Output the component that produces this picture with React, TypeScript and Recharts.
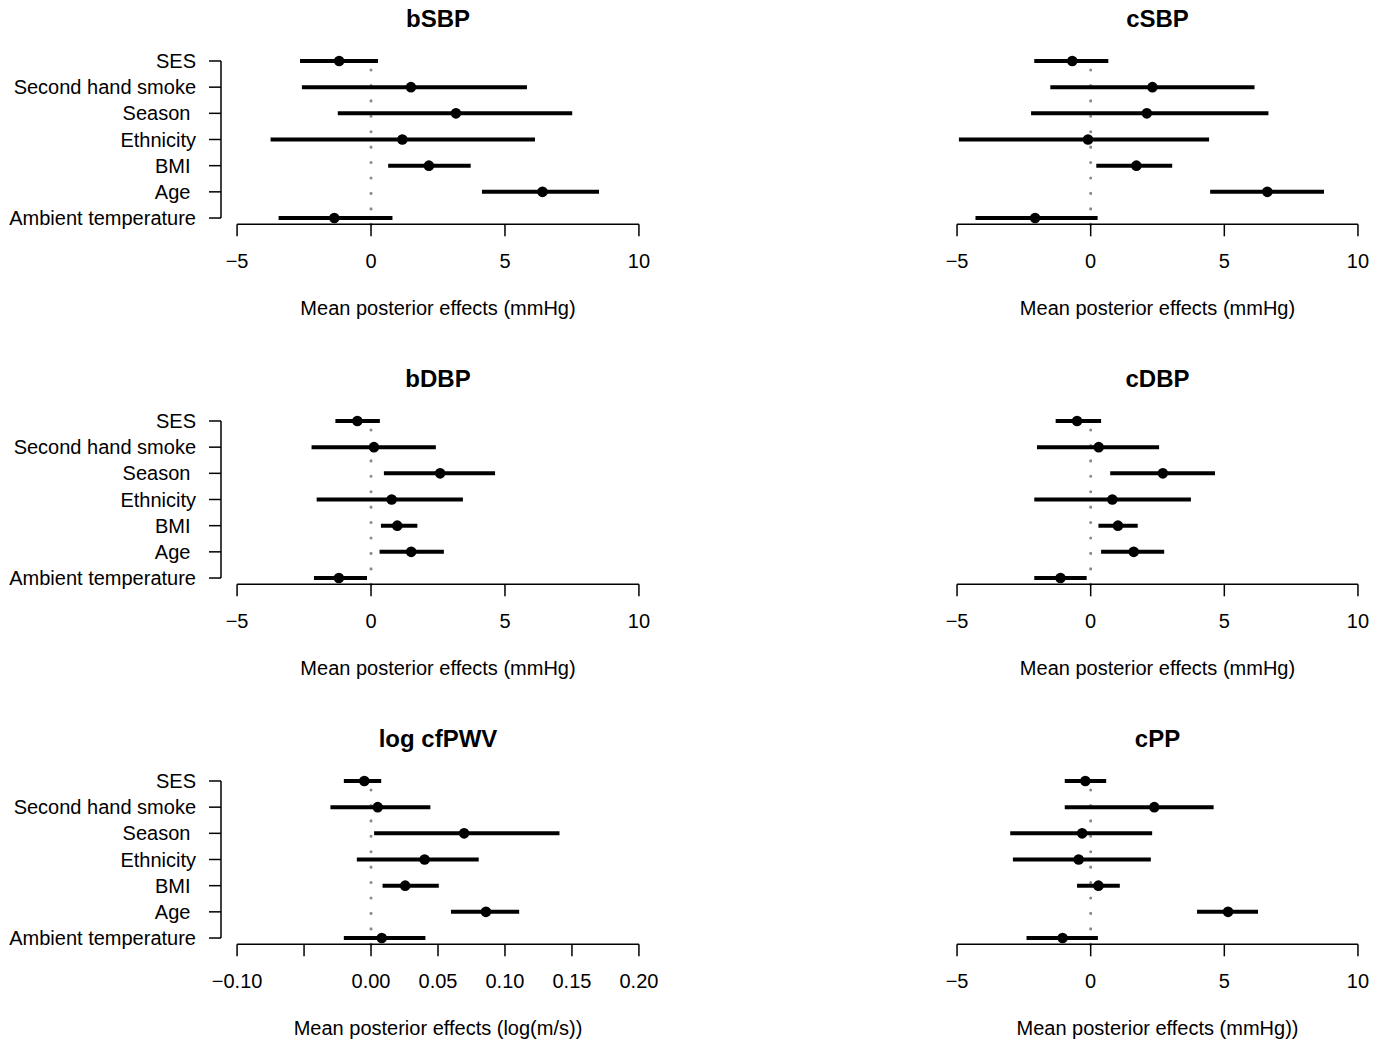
import React from 'react';
import { ComposedChart, Scatter, ErrorBar, XAxis, YAxis, ReferenceLine } from 'recharts';

const FONT = '"Liberation Sans", Arial, Helvetica, sans-serif';

// Covariates, listed top to bottom (non-breaking spaces keep the original label alignment)
const factorLabels = [
  'SES',
  'Second hand smoke',
  'Season\u00a0',
  'Ethnicity',
  'BMI\u00a0',
  'Age\u00a0',
  'Ambient temperature',
];
const factorPositions = [1, 2, 3, 4, 5, 6, 7];

const mmHgTicks = [-5, 0, 5, 10];
const pwvTicks = [-0.1, -0.05, 0, 0.05, 0.1, 0.15, 0.2];

// bSBP
const bSBPMean = [-1.19, 1.49, 3.17, 1.17, 2.16, 6.4, -1.37];
const bSBPLower = [-2.65, -2.58, -1.24, -3.75, 0.64, 4.14, -3.45];
const bSBPUpper = [0.26, 5.82, 7.51, 6.12, 3.72, 8.51, 0.8];

// cSBP
const cSBPMean = [-0.69, 2.31, 2.1, -0.1, 1.71, 6.61, -2.08];
const cSBPLower = [-2.11, -1.51, -2.23, -4.93, 0.21, 4.47, -4.31];
const cSBPUpper = [0.66, 6.13, 6.65, 4.43, 3.05, 8.73, 0.26];

// bDBP
const bDBPMean = [-0.51, 0.11, 2.58, 0.77, 0.98, 1.5, -1.2];
const bDBPLower = [-1.33, -2.22, 0.48, -2.03, 0.37, 0.32, -2.13];
const bDBPUpper = [0.33, 2.42, 4.63, 3.43, 1.73, 2.72, -0.15];

// cDBP
const cDBPMean = [-0.51, 0.3, 2.7, 0.81, 1.02, 1.61, -1.13];
const cDBPLower = [-1.31, -2.01, 0.73, -2.11, 0.29, 0.39, -2.11];
const cDBPUpper = [0.39, 2.56, 4.65, 3.75, 1.76, 2.75, -0.15];

// log cfPWV
const pwvMean = [-0.005, 0.005, 0.0695, 0.04, 0.0255, 0.0858, 0.008];
const pwvLower = [-0.0203, -0.0303, 0.0023, -0.0106, 0.0086, 0.0597, -0.0203];
const pwvUpper = [0.0076, 0.0443, 0.1407, 0.0804, 0.0506, 0.1106, 0.0406];

// cPP
const cPPMean = [-0.2, 2.38, -0.32, -0.45, 0.29, 5.14, -1.05];
const cPPLower = [-0.97, -0.97, -3.01, -2.91, -0.51, 3.98, -2.4];
const cPPUpper = [0.58, 4.6, 2.3, 2.25, 1.09, 6.26, 0.27];

const formatMmHg = (v: number) => (v < 0 ? '\u2212' + Math.abs(v) : String(v));
const formatPwv = (v: number) => {
  if (Math.abs(v + 0.05) < 1e-9) return '';
  return (v < -1e-9 ? '\u2212' : '') + Math.abs(v).toFixed(2);
};

type PanelSpec = {
  title: string;
  xLabel: string;
  mean: number[];
  lower: number[];
  upper: number[];
  ticks: number[];
  domain: [number, number];
  format: (v: number) => string;
  col: number;
  row: number;
};

const panels: PanelSpec[] = [
  { title: 'bSBP', xLabel: 'Mean posterior effects (mmHg)', mean: bSBPMean, lower: bSBPLower, upper: bSBPUpper, ticks: mmHgTicks, domain: [-5.6, 10.6], format: formatMmHg, col: 0, row: 0 },
  { title: 'cSBP', xLabel: 'Mean posterior effects (mmHg)', mean: cSBPMean, lower: cSBPLower, upper: cSBPUpper, ticks: mmHgTicks, domain: [-5.6, 10.6], format: formatMmHg, col: 1, row: 0 },
  { title: 'bDBP', xLabel: 'Mean posterior effects (mmHg)', mean: bDBPMean, lower: bDBPLower, upper: bDBPUpper, ticks: mmHgTicks, domain: [-5.6, 10.6], format: formatMmHg, col: 0, row: 1 },
  { title: 'cDBP', xLabel: 'Mean posterior effects (mmHg)', mean: cDBPMean, lower: cDBPLower, upper: cDBPUpper, ticks: mmHgTicks, domain: [-5.6, 10.6], format: formatMmHg, col: 1, row: 1 },
  { title: 'log cfPWV', xLabel: 'Mean posterior effects (log(m/s))', mean: pwvMean, lower: pwvLower, upper: pwvUpper, ticks: pwvTicks, domain: [-0.112, 0.212], format: formatPwv, col: 0, row: 2 },
  { title: 'cPP', xLabel: 'Mean posterior effects (mmHg))', mean: cPPMean, lower: cPPLower, upper: cPPUpper, ticks: mmHgTicks, domain: [-5.6, 10.6], format: formatMmHg, col: 1, row: 2 },
];

const PANEL_W = 694;
const PANEL_H = 360;
const Y_DOMAIN: [number, number] = [0.76, 7.24];

const renderFactorTick = (props: any) => {
  const { x, y, payload } = props;
  const idx = factorPositions.indexOf(payload.value);
  return (
    <text
      x={x}
      y={y}
      dy="0.355em"
      textAnchor="end"
      fill="#000"
      fontSize={20}
      fontFamily={FONT}
    >
      {idx >= 0 ? factorLabels[idx] : ''}
    </text>
  );
};

const renderPoint = (props: any) => (
  <circle cx={props.cx} cy={props.cy} r={5.3} fill="#000" />
);

function ForestPanel({ p }: { p: PanelSpec }) {
  const rows = factorPositions.map((pos, i) => ({
    pos,
    mean: p.mean[i],
    lower: p.lower[i],
    upper: p.upper[i],
    err: [p.mean[i] - p.lower[i], p.upper[i] - p.mean[i]],
  }));
  const isLeft = p.col === 0;
  const margin = isLeft
    ? { top: 54.7, right: 39, bottom: 75.7, left: 0 }
    : { top: 54.7, right: 14, bottom: 75.7, left: 247 };
  const plotLeft = isLeft ? 221 : 247;
  const plotRight = PANEL_W - margin.right;
  const centerX = (plotLeft + plotRight) / 2;
  const firstTick = p.ticks[0];
  const lastTick = p.ticks[p.ticks.length - 1];

  return (
    <div style={{ position: 'absolute', left: p.col * PANEL_W, top: p.row * PANEL_H, width: PANEL_W, height: PANEL_H }}>
      <ComposedChart width={PANEL_W} height={PANEL_H} data={rows} margin={margin}>
        <XAxis
          type="number"
          dataKey="mean"
          domain={p.domain}
          ticks={p.ticks}
          allowDataOverflow
          interval={0}
          axisLine={false}
          tickLine={{ stroke: '#000', strokeWidth: 1.5 }}
          tickSize={12}
          tickMargin={17}
          height={60}
          tick={{ fill: '#000', fontSize: 20, fontFamily: FONT }}
          tickFormatter={p.format}
        />
        <YAxis
          type="number"
          dataKey="pos"
          domain={Y_DOMAIN}
          ticks={factorPositions}
          reversed
          allowDataOverflow
          interval={0}
          hide={!isLeft}
          width={221}
          axisLine={false}
          tickLine={{ stroke: '#000', strokeWidth: 1.5 }}
          tickSize={12}
          tickMargin={13}
          tick={renderFactorTick}
        />
        <ReferenceLine
          x={0}
          stroke="#8a8a8a"
          strokeWidth={3}
          strokeDasharray="0.1 15.32"
          strokeLinecap="round"
        />
        <ReferenceLine
          segment={[{ x: firstTick, y: Y_DOMAIN[1] }, { x: lastTick, y: Y_DOMAIN[1] }]}
          stroke="#000"
          strokeWidth={1.5}
        />
        {isLeft && (
          <ReferenceLine
            segment={[{ x: p.domain[0], y: 1 }, { x: p.domain[0], y: 7 }]}
            stroke="#000"
            strokeWidth={1.5}
          />
        )}
        <Scatter data={rows} dataKey="pos" isAnimationActive={false} shape={renderPoint}>
          <ErrorBar dataKey="err" direction="x" width={0} stroke="#000" strokeWidth={4} isAnimationActive={false} />
        </Scatter>
      </ComposedChart>
      <svg
        width={PANEL_W}
        height={PANEL_H}
        style={{ position: 'absolute', left: 0, top: 0, pointerEvents: 'none' }}
      >
        <text x={centerX} y={27} textAnchor="middle" fontSize={24} fontWeight="bold" fontFamily={FONT} fill="#000">
          {p.title}
        </text>
        <text x={centerX} y={315} textAnchor="middle" fontSize={20} fontFamily={FONT} fill="#000">
          {p.xLabel}
        </text>
      </svg>
    </div>
  );
}

export default function App() {
  return (
    <div style={{ position: 'absolute', left: 0, top: 0, width: 1388, height: 1042, background: '#fff' }}>
      {panels.map((p) => (
        <ForestPanel key={p.title} p={p} />
      ))}
    </div>
  );
}
